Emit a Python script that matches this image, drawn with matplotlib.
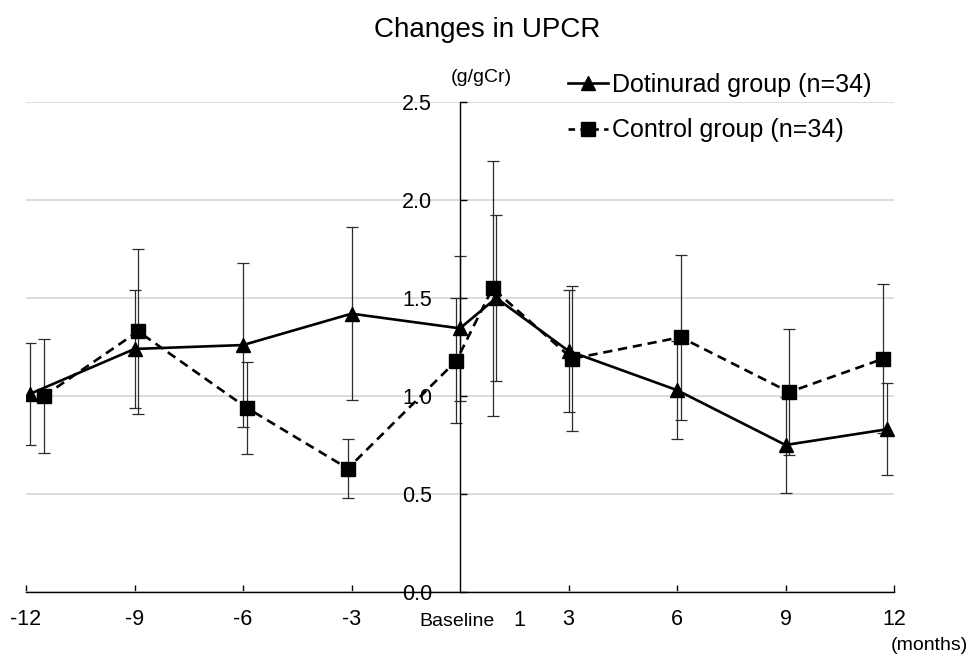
import matplotlib
matplotlib.use('Agg')
import matplotlib.pyplot as plt
from matplotlib.lines import Line2D

plt.rcParams['font.family'] = ['Liberation Sans', 'DejaVu Sans']

# Data (months, UPCR g/gCr, mean and SD)
dot_months = [-11.9, -9, -6, -3, 0, 1, 3, 6, 9, 11.8]
dot_upcr = [1.01, 1.24, 1.26, 1.42, 1.345, 1.50, 1.23, 1.03, 0.75, 0.83]
dot_err = [0.26, 0.30, 0.42, 0.44, 0.37, 0.425, 0.31, 0.25, 0.245, 0.235]

ctrl_months = [-11.5, -8.9, -5.9, -3.1, -0.1, 0.9, 3.1, 6.1, 9.1, 11.7]
ctrl_upcr = [1.00, 1.33, 0.94, 0.63, 1.18, 1.55, 1.19, 1.30, 1.02, 1.19]
ctrl_err = [0.29, 0.42, 0.235, 0.15, 0.32, 0.65, 0.37, 0.42, 0.32, 0.38]

x_ticks = [-12, -9, -6, -3, 3, 6, 9, 12]
y_ticks = [0.0, 0.5, 1.0, 1.5, 2.0, 2.5]

fig = plt.figure(figsize=(9.71, 6.6), dpi=100)
ax = fig.add_axes([26 / 971, 1 - 592 / 660, (894 - 26) / 971, (592 - 102) / 660])

# error bars first, lines on top
ax.errorbar(dot_months, dot_upcr, yerr=dot_err, fmt='none', ecolor='#2b2b2b',
            elinewidth=0.9, capsize=4.5, capthick=0.9, zorder=2)
ax.errorbar(ctrl_months, ctrl_upcr, yerr=ctrl_err, fmt='none', ecolor='#2b2b2b',
            elinewidth=0.9, capsize=4.5, capthick=0.9, zorder=2)

ax.plot(dot_months, dot_upcr, color='black', linestyle='-', linewidth=1.9,
        marker='^', markersize=10.5, zorder=4)
ax.plot(ctrl_months, ctrl_upcr, color='black', linestyle=(0, (3.5, 2.2)), linewidth=1.9,
        marker='s', markersize=9.5, zorder=3)

ax.set_xlim(-12, 12)
ax.set_ylim(0, 2.5)

for sp in ['top', 'right']:
    ax.spines[sp].set_visible(False)
ax.spines['left'].set_position(('data', 0))
ax.spines['left'].set_linewidth(1.0)
ax.spines['bottom'].set_linewidth(1.0)

ax.set_yticks(y_ticks)
ax.set_yticklabels([f'{v:.1f}' for v in y_ticks])
ax.set_xticks(x_ticks)
ax.set_xticklabels([str(v) for v in x_ticks])
ax.tick_params(axis='y', direction='in', length=5, width=1.0, pad=20, labelsize=15.5)
ax.tick_params(axis='x', direction='in', length=5, width=1.0, pad=12, labelsize=15.5)

ax.grid(axis='y', color='#d9d9d9', linewidth=1.3, zorder=0)
ax.set_axisbelow(True)

ax.annotate('Baseline', xy=(-0.07, 0), xytext=(0, -24.5), textcoords='offset points',
            ha='center', va='baseline', fontsize=14)
ax.annotate('1', xy=(1.65, 0), xytext=(0, -24.5), textcoords='offset points',
            ha='center', va='baseline', fontsize=15.5)

fig.text(487 / 971, 1 - 30 / 660, 'Changes in UPCR', ha='center', va='center', fontsize=20)
fig.text(481 / 971, 1 - 78 / 660, '(g/gCr)', ha='center', va='center', fontsize=14)
fig.text(968 / 971, 1 - 645 / 660, '(months)', ha='right', va='center', fontsize=14)

handles = [
    Line2D([], [], color='black', linestyle='-', linewidth=1.9, marker='^', markersize=10.5),
    Line2D([], [], color='black', linestyle=(0, (2.5, 2.0)), linewidth=1.9, marker='s', markersize=9.5),
]
fig.legend(handles, ['Dotinurad group (n=34)', 'Control group (n=34)'],
           loc='upper left', bbox_to_anchor=(568 / 971, 1 - 73 / 660),
           frameon=False, fontsize=18, handlelength=1.6, handletextpad=0.15,
           labelspacing=0.85, borderpad=0, borderaxespad=0)

fig.savefig('out.png', dpi=100)
